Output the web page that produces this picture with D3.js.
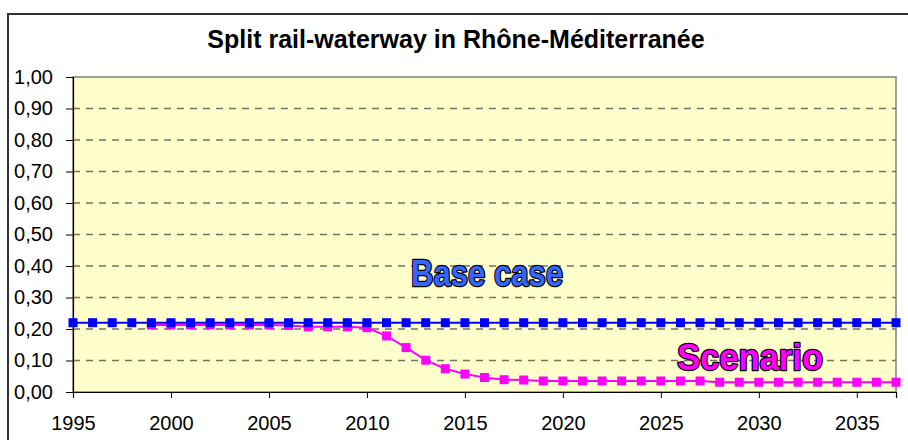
<!DOCTYPE html>
<html>
<head>
<meta charset="utf-8">
<script src="https://cdn.jsdelivr.net/npm/d3@7"></script>
<style>
  html, body { margin: 0; padding: 0; background: #ffffff; }
  svg { display: block; }
</style>
</head>
<body>
<svg id="chart" width="908" height="440"></svg>
<script>
// Years on the category axis
const years = [1995, 1996, 1997, 1998, 1999, 2000, 2001, 2002, 2003, 2004,
               2005, 2006, 2007, 2008, 2009, 2010, 2011, 2012, 2013, 2014,
               2015, 2016, 2017, 2018, 2019, 2020, 2021, 2022, 2023, 2024,
               2025, 2026, 2027, 2028, 2029, 2030, 2031, 2032, 2033, 2034,
               2035, 2036, 2037];

// Base case share (constant)
const baseCase = [0.22, 0.22, 0.22, 0.22, 0.22, 0.22, 0.22, 0.22, 0.22, 0.22,
                  0.22, 0.22, 0.22, 0.22, 0.22, 0.22, 0.22, 0.22, 0.22, 0.22,
                  0.22, 0.22, 0.22, 0.22, 0.22, 0.22, 0.22, 0.22, 0.22, 0.22,
                  0.22, 0.22, 0.22, 0.22, 0.22, 0.22, 0.22, 0.22, 0.22, 0.22,
                  0.22, 0.22, 0.22];

// Scenario share, available from 1999
const scenarioYears = [1999, 2000, 2001, 2002, 2003, 2004, 2005, 2006, 2007, 2008,
                       2009, 2010, 2011, 2012, 2013, 2014, 2015, 2016, 2017, 2018,
                       2019, 2020, 2021, 2022, 2023, 2024, 2025, 2026, 2027, 2028,
                       2029, 2030, 2031, 2032, 2033, 2034, 2035, 2036, 2037];
const scenario = [0.213, 0.213, 0.213, 0.213, 0.213, 0.213, 0.213, 0.211, 0.207, 0.207,
                  0.207, 0.204, 0.178, 0.141, 0.101, 0.074, 0.057, 0.046, 0.039, 0.038,
                  0.035, 0.035, 0.035, 0.035, 0.035, 0.035, 0.035, 0.035, 0.035, 0.031,
                  0.031, 0.031, 0.031, 0.031, 0.031, 0.031, 0.031, 0.031, 0.031];

const yTicks = [0, 0.1, 0.2, 0.3, 0.4, 0.5, 0.6, 0.7, 0.8, 0.9, 1.0];
const xTicks = [1995, 2000, 2005, 2010, 2015, 2020, 2025, 2030, 2035];

const titleText = "Split rail-waterway in Rhône-Méditerranée";
const baseLabel = "Base case";
const scenarioLabel = "Scenario";

const svg = d3.select("#chart");
const font = "'Liberation Sans', Arial, sans-serif";

const plot = { left: 73, right: 896, top: 77, bottom: 392 };

const x = d3.scaleLinear().domain([1995, 2037]).range([plot.left, plot.right]);
const y = d3.scaleLinear().domain([0, 1]).range([plot.bottom, plot.top]);

// Chart frame
svg.append("rect")
  .attr("x", 8).attr("y", 14)
  .attr("width", 920).attr("height", 450)
  .attr("fill", "#ffffff")
  .attr("stroke", "#333333").attr("stroke-width", 2);

// Title
svg.append("text")
  .attr("x", 456).attr("y", 48)
  .attr("text-anchor", "middle")
  .attr("font-family", font)
  .attr("font-weight", "bold")
  .attr("font-size", 25)
  .attr("fill", "#000")
  .text(titleText);

// Plot background
svg.append("rect")
  .attr("x", plot.left).attr("y", plot.top)
  .attr("width", plot.right - plot.left).attr("height", plot.bottom - plot.top)
  .attr("fill", "#FFFFCC")
  .attr("stroke", "#808080").attr("stroke-width", 1.5);

// Dashed gridlines
svg.append("g")
  .selectAll("line")
  .data(yTicks.filter(v => v > 0 && v < 1))
  .join("line")
  .attr("x1", plot.left).attr("x2", plot.right)
  .attr("y1", d => y(d)).attr("y2", d => y(d))
  .attr("stroke", "#737363")
  .attr("stroke-width", 1.5)
  .attr("stroke-dasharray", "7,6");

// Y axis
const yAxis = d3.axisLeft(y)
  .tickValues(yTicks)
  .tickSize(7)
  .tickPadding(13)
  .tickFormat(d => d3.format(".2f")(d).replace(".", ","));
const gy = svg.append("g")
  .attr("transform", `translate(${plot.left},0)`)
  .call(yAxis);
gy.select(".domain").attr("stroke", "#000").attr("stroke-width", 1.2);
gy.selectAll(".tick line").attr("stroke", "#000");
gy.selectAll(".tick text")
  .attr("font-family", font).attr("font-size", 20).attr("fill", "#000");

// X axis
const xAxis = d3.axisBottom(x)
  .tickValues(xTicks)
  .tickSize(6)
  .tickPadding(18)
  .tickFormat(d3.format("d"));
const gx = svg.append("g")
  .attr("transform", `translate(0,${plot.bottom})`)
  .call(xAxis);
gx.select(".domain").attr("stroke", "#000").attr("stroke-width", 1.2);
gx.selectAll(".tick line").attr("stroke", "#000");
gx.selectAll(".tick text")
  .attr("font-family", font).attr("font-size", 20).attr("fill", "#000");

// Series
function drawSeries(xs, ys, color) {
  const pts = xs.map((yr, i) => [yr, ys[i]]);
  const line = d3.line().x(d => x(d[0])).y(d => y(d[1]));
  const g = svg.append("g");
  g.append("path")
    .attr("d", line(pts))
    .attr("fill", "none")
    .attr("stroke", color)
    .attr("stroke-width", 2);
  const s = 9;
  g.selectAll("rect")
    .data(pts)
    .join("rect")
    .attr("x", d => x(d[0]) - s / 2)
    .attr("y", d => y(d[1]) - s / 2)
    .attr("width", s).attr("height", s)
    .attr("fill", color);
}
drawSeries(scenarioYears, scenario, "#FF00FF");
drawSeries(years, baseCase, "#0000FF");

// Series labels
function outlinedLabel(txt, cx, baseline, width, fill) {
  svg.append("text")
    .attr("x", cx).attr("y", baseline)
    .attr("text-anchor", "middle")
    .attr("font-family", font)
    .attr("font-weight", "bold")
    .attr("font-size", 37)
    .attr("textLength", width)
    .attr("lengthAdjust", "spacingAndGlyphs")
    .attr("fill", fill)
    .attr("stroke", "#000")
    .attr("stroke-width", 2.5)
    .attr("stroke-linejoin", "round")
    .attr("paint-order", "stroke")
    .text(txt);
}
outlinedLabel(baseLabel, 487, 286, 152, "#3366FF");
outlinedLabel(scenarioLabel, 750, 370, 146, "#FF00FF");
</script>
</body>
</html>
